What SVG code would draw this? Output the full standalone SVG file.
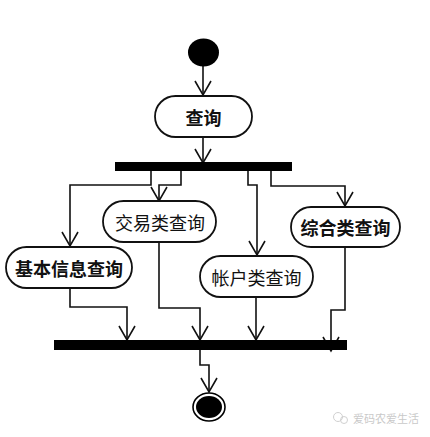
<svg xmlns="http://www.w3.org/2000/svg" width="430" height="437" viewBox="0 0 430 437">
<style>
.edge{fill:none;stroke:#111;stroke-width:1.6}
.node{fill:#fff;stroke:#111;stroke-width:1.8}
.lbl{font-family:"Noto Sans CJK SC","Noto Sans CJK JP",sans-serif;font-size:18px;fill:#111;text-anchor:middle;dominant-baseline:central}
.b{font-weight:bold}
.bar{fill:#000}
</style>
<defs>
<marker id="arr" markerUnits="userSpaceOnUse" markerWidth="20" markerHeight="20" refX="15" refY="9" orient="auto" viewBox="0 0 20 20">
<path d="M1,1 L15,9 L1,17" fill="none" stroke="#111" stroke-width="1.6"/>
</marker>
</defs>
<rect width="430" height="437" fill="#fff"/>
<g id="connectors">
<path class="edge" d="M203,66 V95" marker-end="url(#arr)"/>
<path class="edge" d="M203,137 V163" marker-end="url(#arr)"/>
<path class="edge" d="M151,171 V185 H70 V246" marker-end="url(#arr)"/>
<path class="edge" d="M181,171 V185 H159 V201" marker-end="url(#arr)"/>
<path class="edge" d="M248,171 V185 H257 V255" marker-end="url(#arr)"/>
<path class="edge" d="M271,171 V186 H345 V206" marker-end="url(#arr)"/>
<path class="edge" d="M70,288 V307 H127 V340" marker-end="url(#arr)"/>
<path class="edge" d="M159,242 V308 H200 V340" marker-end="url(#arr)"/>
<path class="edge" d="M256,297 V340" marker-end="url(#arr)"/>
<path class="edge" d="M345,247 V310 H331 V351" marker-end="url(#arr)"/>
<path class="edge" d="M200,350 V365 H209 V392" marker-end="url(#arr)"/>
</g>
<g id="start"><ellipse cx="203.5" cy="52.5" rx="15.5" ry="14" fill="#000"/></g>
<g id="query"><rect class="node" x="155" y="96" width="97" height="41" rx="20.5"/><text class="lbl b" x="203.5" y="116.5">查询</text></g>
<g id="fork"><rect class="bar" x="115" y="162" width="177" height="9"/></g>
<g id="trade"><rect class="node" x="103" y="201" width="113" height="41" rx="20.5"/><text class="lbl" x="160" y="221.5">交易类查询</text></g>
<g id="basic"><rect class="node" x="6" y="247" width="126" height="41" rx="20.5"/><text class="lbl b" x="69" y="267.5">基本信息查询</text></g>
<g id="account"><rect class="node" x="200" y="256" width="113" height="41" rx="20.5"/><text class="lbl" x="256.5" y="276.5">帐户类查询</text></g>
<g id="combined"><rect class="node" x="291" y="207" width="109" height="40" rx="20"/><text class="lbl b" x="345.5" y="227" font-size="17.5">综合类查询</text></g>
<g id="join"><rect class="bar" x="54" y="340" width="293" height="10"/></g>
<g id="end"><ellipse cx="209" cy="407" rx="16" ry="14" fill="none" stroke="#000" stroke-width="1.6"/><ellipse cx="209" cy="407" rx="13" ry="11" fill="#000"/></g>
<g id="watermark" opacity="0.45">
<circle cx="338" cy="417" r="4.5" fill="none" stroke="#999" stroke-width="1"/>
<circle cx="344" cy="420" r="3.5" fill="none" stroke="#999" stroke-width="1"/>
<text x="353" y="418" font-family="Noto Sans CJK SC,sans-serif" font-size="11" fill="#888" dominant-baseline="central">爱码农爱生活</text>
</g>
</svg>
